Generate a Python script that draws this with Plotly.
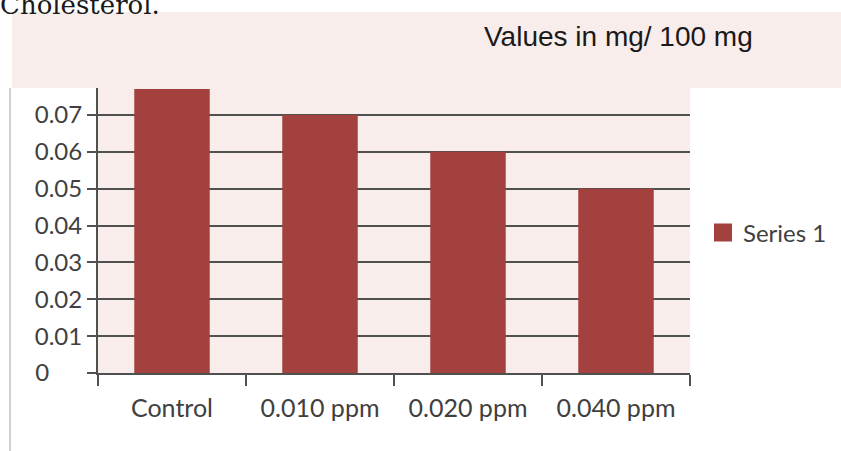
import plotly.graph_objects as go

# Chart data
categories = ["Control", "0.010 ppm", "0.020 ppm", "0.040 ppm"]
values = [0.077, 0.070, 0.060, 0.050]
series_name = "Series 1"
y_tick_values = [0, 0.01, 0.02, 0.03, 0.04, 0.05, 0.06, 0.07]
y_tick_labels = ["0", "0.01", "0.02", "0.03", "0.04", "0.05", "0.06", "0.07"]
header_text = "Values in mg/ 100 mg"
caption_text = "Cholesterol."

BAR = "#a3413f"
PINK = "#f9edeb"
GRID = "#505050"
TEXT = "#404040"
FONT = "Lato, 'Open Sans', sans-serif"

W, H = 841, 451
L, R, T, B = 98, 151, 88, 78
PW, PH = W - L - R, H - T - B


def px_x(px):
    return (px - L) / PW


def px_y(py):
    return (H - B - py) / PH


def pad_label(s):
    # keep labels left-aligned like the other 4-character labels
    if len(s) == 1:
        return s + "\u2008\u2007\u2007"
    return s


fig = go.Figure()
fig.add_trace(go.Bar(
    x=categories, y=values, marker=dict(color=BAR, line=dict(width=0)),
    name=series_name, showlegend=False,
))
# legend swatch
fig.add_trace(go.Scatter(
    x=[None], y=[None], mode="markers", name=series_name,
    marker=dict(symbol="square", size=16, color=BAR, line=dict(color=BAR, width=2)),
))

shapes = [
    # header band
    dict(type="rect", xref="paper", yref="paper", x0=px_x(12), x1=px_x(845),
         y0=px_y(88), y1=px_y(12), fillcolor=PINK, line=dict(width=0), layer="below"),
    # left page rule
    dict(type="line", xref="paper", yref="paper", x0=px_x(10), x1=px_x(10),
         y0=px_y(88), y1=px_y(455), line=dict(color="#cfcfcf", width=2)),
]

annotations = [
    dict(text=header_text, xref="paper", yref="paper", x=px_x(618), y=px_y(36),
         xanchor="center", yanchor="middle", showarrow=False,
         font=dict(family="'Liberation Sans', Arial, sans-serif",
                   size=28, color="#1a1a1a")),
    dict(text=caption_text, xref="paper", yref="paper", x=px_x(-2), y=px_y(22),
         xanchor="left", yanchor="bottom", showarrow=False,
         font=dict(family="'DejaVu Serif', serif", size=26, color="#1a1a1a")),
]

fig.update_layout(
    width=W, height=H,
    margin=dict(l=L, r=R, t=T, b=B, pad=0, autoexpand=False),
    paper_bgcolor="white", plot_bgcolor=PINK,
    bargap=0.49,
    font=dict(family=FONT, size=24, color=TEXT),
    shapes=shapes, annotations=annotations,
    legend=dict(xref="container", yref="container", x=703 / W, y=(H - 233) / H,
                xanchor="left", yanchor="middle",
                bgcolor="rgba(0,0,0,0)", font=dict(size=24, color=TEXT)),
    xaxis=dict(
        type="category", showgrid=False, showline=True, linecolor=GRID, linewidth=2,
        ticks="outside", tickson="boundaries", ticklen=11, tickwidth=2, tickcolor=GRID,
        tickfont=dict(size=25, color=TEXT), zeroline=False, ticklabelstandoff=12,
        automargin=False,
    ),
    yaxis=dict(
        range=[0, 0.0773], tickvals=y_tick_values,
        ticktext=[pad_label(s) for s in y_tick_labels],
        showgrid=True, gridcolor=GRID, gridwidth=2,
        showline=True, linecolor=GRID, linewidth=2, zeroline=False,
        ticks="outside", ticklen=9, tickwidth=2, tickcolor=GRID,
        tickfont=dict(size=24, color=TEXT), automargin=False,
    ),
)

fig.write_html("out.html")
